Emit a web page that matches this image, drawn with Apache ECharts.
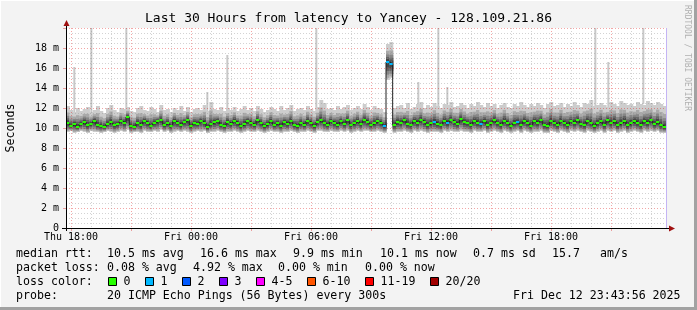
<!DOCTYPE html>
<html><head><meta charset="utf-8">
<script src="https://cdn.jsdelivr.net/npm/echarts@6/dist/echarts.min.js"></script>
<style>html,body{margin:0;padding:0;background:#f3f3f3}#c{width:697px;height:310px}</style>
</head><body><div id="c"></div>
<script>
// ---- data (10-minute intervals from Thu 17:45 to Fri 23:45) ----
const stepMin = 10;
const median = [
10.5,10.2,10.4,10.1,10.4,10.6,10.3,10.4,10.7,10.3,
10.2,10.1,10.4,10.6,10.3,10.4,10.7,10.5,11.1,10.2,
10.1,10.5,10.3,10.7,10.5,10.2,10.5,10.7,10.8,10.3,
10.5,10.2,10.7,10.5,10.3,10.6,10.8,10.2,10.5,10.4,
10.7,10.5,10.1,10.4,10.6,10.7,10.3,10.2,10.6,10.4,
10.7,10.5,10.2,10.4,10.7,10.5,10.3,10.8,10.5,10.2,
10.4,10.7,10.3,10.5,10.2,10.6,10.4,10.7,10.3,10.2,
10.5,10.3,10.7,10.5,10.2,10.6,10.8,10.5,10.3,10.7,
10.5,10.3,10.7,10.4,10.8,10.3,10.5,10.7,10.4,10.8,
10.6,10.3,10.5,10.7,10.5,10.2,16.6,16.4,10.3,10.6,
10.5,10.8,10.4,10.3,10.7,10.5,10.8,10.6,10.3,10.5,
10.6,10.4,10.3,10.7,10.5,10.8,10.6,10.4,10.9,10.6,
10.5,10.3,10.7,10.5,10.4,10.7,10.3,10.5,10.8,10.5,
10.3,10.7,10.5,10.2,10.5,10.6,10.3,10.7,10.5,10.2,
10.7,10.5,10.8,10.3,10.2,10.7,10.5,10.3,10.7,10.5,
10.3,10.7,10.5,10.8,10.4,10.3,10.7,10.5,10.2,10.5,
10.7,10.3,10.8,10.5,10.7,10.3,10.5,10.7,10.3,10.5,
10.7,10.5,10.3,10.7,10.5,10.8,10.4,10.6,10.3,10.1];
const low = [
9.6,9.7,9.5,9.6,9.7,9.6,9.5,9.7,9.6,9.6,
9.5,9.6,9.7,9.6,9.5,9.6,9.7,9.6,9.8,9.5,
9.6,9.6,9.5,9.7,9.6,9.6,9.7,9.6,9.8,9.6,
9.7,9.5,9.6,9.7,9.6,9.7,9.6,9.5,9.6,9.7,
9.6,9.7,9.5,9.6,9.6,9.7,9.6,9.5,9.6,9.6,
9.7,9.6,9.5,9.6,9.7,9.6,9.6,9.7,9.6,9.5,
9.6,9.7,9.6,9.6,9.5,9.6,9.6,9.7,9.6,9.5,
9.6,9.6,9.7,9.6,9.5,9.7,9.7,9.6,9.6,9.7,
9.6,9.6,9.7,9.6,9.7,9.5,9.6,9.7,9.6,9.7,
9.7,9.6,9.6,9.7,9.6,9.5,14.8,15.0,9.5,9.6,
9.6,9.7,9.6,9.5,9.7,9.6,9.7,9.6,9.5,9.6,
9.6,9.6,9.5,9.7,9.6,9.7,9.6,9.6,9.7,9.6,
9.6,9.5,9.7,9.6,9.6,9.7,9.5,9.6,9.7,9.6,
9.5,9.7,9.6,9.5,9.6,9.7,9.5,9.7,9.6,9.5,
9.6,9.6,9.7,9.5,9.5,9.7,9.6,9.5,9.7,9.6,
9.5,9.7,9.6,9.7,9.6,9.5,9.7,9.6,9.5,9.6,
9.7,9.5,9.7,9.6,9.7,9.5,9.6,9.7,9.5,9.6,
9.7,9.6,9.5,9.7,9.6,9.7,9.6,9.7,9.5,9.5];
const high = [
12.2,11.8,11.6,12.0,11.7,11.9,12.1,11.6,11.8,12.2,
11.7,11.5,12.0,12.3,11.8,11.6,12.0,11.9,12.1,11.7,
11.6,12.0,12.2,11.8,11.7,12.1,11.9,11.6,12.3,11.8,
11.9,11.6,12.0,11.8,12.2,11.7,12.1,11.6,11.9,12.0,
11.8,12.3,11.7,12.6,11.9,11.8,12.1,11.7,12.0,11.8,
12.1,11.7,11.9,12.2,11.8,12.0,11.7,12.2,11.9,11.6,
11.8,12.1,11.9,11.7,12.2,11.8,12.0,12.3,11.7,11.9,
12.0,11.8,12.2,11.9,11.7,12.1,12.8,12.5,11.9,12.0,
11.8,12.2,11.9,12.1,12.3,11.8,12.0,12.2,11.9,12.4,
12.1,11.8,12.2,12.0,11.9,11.6,18.4,18.6,12.0,12.2,
12.3,12.0,12.5,11.9,12.1,12.4,12.6,12.0,12.3,12.1,
12.5,12.2,12.0,12.4,12.3,12.6,12.1,12.2,12.5,12.3,
12.0,12.4,12.2,12.6,12.3,12.1,12.5,12.2,12.4,12.0,
12.3,12.5,12.1,12.0,12.4,12.2,12.6,12.3,12.1,12.4,
12.2,12.5,12.3,12.0,12.4,12.6,12.2,12.3,12.5,12.1,
12.4,12.2,12.6,12.3,12.1,12.5,12.4,12.8,12.2,12.3,
12.5,12.3,12.1,12.6,12.4,12.2,12.7,12.5,12.3,12.4,
12.2,12.6,12.4,12.3,12.7,12.5,12.3,12.6,12.4,12.2];
// single-ping outliers: minutes since start, value (ms)
const spikeTime  = [22, 73, 178, 421, 481, 748, 760, 1054, 1114, 1141, 1585, 1624, 1675, 1729];
const spikeValue = [16.1, 20, 20, 13.6, 17.3, 20, 12.8, 14.6, 20, 14.1, 20, 16.6, 12.3, 20];
// intervals with packet loss (pings lost of 20)
const lossAt    = [95, 96, 97, 110, 114, 124, 135];
const lossPings = [1, 1, 1, 1, 1, 1, 1];
// axis
const tickLabels = ['Thu 18:00','Fri 00:00','Fri 06:00','Fri 12:00','Fri 18:00'];
const legendLabels = ['0','1','2','3','4-5','6-10','11-19','20/20'];
const legendColors = ['#26ff00','#00b8ff','#0059ff','#7e00ff','#ff00ff','#ff5500','#ff0000','#a10000'];
const statLines = [
  [['median rtt:',16],['10.5 ms avg',107],['16.6 ms max',200],['9.9 ms min',293],['10.1 ms now',380],['0.7 ms sd',473],['15.7',552],['am/s',600]],
  [['packet loss:',16],['0.08 % avg',107],['4.92 % max',193],['0.00 % min',278],['0.00 % now',365]],
  [['loss color:',16]],
  [['probe:',16],['20 ICMP Echo Pings (56 Bytes) every 300s',107],['Fri Dec 12 23:43:56 2025',513]]
];

// ---- build ----
const MONO = '"DejaVu Sans Mono", monospace';
const RED = 'rgba(220,0,0,0.35)';
const GRAY = 'rgba(140,140,140,0.38)';
const days = ['Thu','Fri'];
const cats = [];
for (let k = 0; k <= 360; k++) {
  const tot = 17*60 + 45 + k*5;
  const d = Math.floor(tot/1440), mm = tot % 1440;
  cats.push(days[d] + ' ' + String(Math.floor(mm/60)).padStart(2,'0') + ':' + String(mm%60).padStart(2,'0'));
}
const isHour = v => v.endsWith(':00');
const isMajor = v => isHour(v) && (parseInt(v.slice(4,6),10) % 3 === 0);

const lossOf = i => { const j = lossAt.indexOf(i); return j < 0 ? 0 : lossPings[j]; };
function lossColor(n){ if(n===0) return legendColors[0]; if(n===1) return legendColors[1]; if(n===2) return legendColors[2]; if(n===3) return legendColors[3]; if(n<=5) return legendColors[4]; if(n<=10) return legendColors[5]; if(n<20) return legendColors[6]; return legendColors[7]; }

const smokeData = median.map((m,i) => [i*stepMin, (i+1)*stepMin, m, low[i], high[i]]);
const medianLine = median.map((m,i) => [i*stepMin, m]); medianLine.push([median.length*stepMin, median[median.length-1]]);
const lossData = median.map((m,i) => [i*stepMin, (i+1)*stepMin, m, lossOf(i)]);
const spikeData = spikeTime.map((t,i) => [t, t+6, spikeValue[i], high[Math.floor(t/stepMin)]]);

// smoke shading: [lower fraction, upper fraction, colour]
const bands = [[1,1,'#cdcdcd'],[0.88,0.62,'#a9a9a9'],[0.7,0.42,'#878787'],[0.5,0.28,'#666666'],[0.3,0.16,'#474747']];
function renderSmoke(params, api){
  const t0 = api.value(0), t1 = api.value(1), m = api.value(2), lo = api.value(3), hi = api.value(4);
  const xa = api.coord([t0, 0])[0], xb = api.coord([t1, 0])[0];
  const children = bands.map(b => {
    const yt = api.coord([t0, m + (hi-m)*b[1]])[1], yb = api.coord([t0, m - (m-lo)*b[0]])[1];
    return {type:'rect', shape:{x:xa, y:yt, width:xb-xa+0.6, height:yb-yt}, style:{fill:b[2]}};
  });
  return {type:'group', children};
}
function renderSpike(params, api){
  const a = api.coord([api.value(0), api.value(2)]), b = api.coord([api.value(1), api.value(3)]);
  return {type:'rect', shape:{x:a[0], y:a[1], width:b[0]-a[0], height:b[1]-a[1]}, style:{fill:'#c8c8c8'}};
}
function renderLoss(params, api){
  const a = api.coord([api.value(0), api.value(2)]), b = api.coord([api.value(1), api.value(2)]);
  return {type:'rect', shape:{x:a[0], y:a[1]-1, width:b[0]-a[0], height:2}, style:{fill:lossColor(api.value(3))}};
}

const graphics = [
  {type:'rect', shape:{x:0,y:0,width:697,height:1}, style:{fill:'#ffffff'}},
  {type:'rect', shape:{x:0,y:0,width:1,height:310}, style:{fill:'#ffffff'}},
  {type:'rect', shape:{x:694,y:0,width:3,height:310}, style:{fill:'#a2a2a2'}},
  {type:'rect', shape:{x:0,y:307,width:697,height:3}, style:{fill:'#a2a2a2'}},
  {type:'line', shape:{x1:66.5,y1:231,x2:66.5,y2:25}, style:{stroke:'#000',lineWidth:1}, z:20},
  {type:'polygon', shape:{points:[[63.5,26],[69.5,26],[66.5,20]]}, style:{fill:'#a01010'}, z:20},
  {type:'line', shape:{x1:62,y1:228.5,x2:670,y2:228.5}, style:{stroke:'#000',lineWidth:1}, z:20},
  {type:'polygon', shape:{points:[[669,225.5],[669,231.5],[675,228.5]]}, style:{fill:'#a01010'}, z:20},
  {type:'text', x:687, y:5, rotation:-Math.PI/2, style:{text:'RRDTOOL / TOBI OETIKER', font:'8px '+MONO, fill:'#b0b0b0', align:'left', verticalAlign:'middle'}}
];
const ys = [254, 268, 281.5, 296];
statLines.forEach((line, li) => line.forEach(([txt, x]) => {
  graphics.push({type:'text', x:x, y:ys[li], style:{text:txt, font:'11.6px '+MONO, fill:'#000', align:'left', verticalAlign:'middle'}});
}));
const boxX = [108.5,145.5,182.5,219.5,256.5,307.5,365.5,430.5];
legendLabels.forEach((lab, i) => {
  graphics.push({type:'rect', shape:{x:boxX[i], y:277.5, width:8, height:8}, style:{fill:legendColors[i], stroke:'#000', lineWidth:1}});
  graphics.push({type:'text', x:boxX[i]+15, y:281.5, style:{text:lab, font:'11.6px '+MONO, fill:'#000', align:'left', verticalAlign:'middle'}});
});

const chart = echarts.init(document.getElementById('c'));
chart.setOption({
  animation:false,
  backgroundColor:'#f3f3f3',
  title:{text:'Last 30 Hours from latency to Yancey - 128.109.21.86', left:'center', top:12, padding:0,
    textStyle:{fontFamily:MONO, fontSize:13, fontWeight:'normal', color:'#000'}},
  grid:{left:66, top:28, width:600, height:200, show:true, backgroundColor:'#ffffff', borderWidth:0, containLabel:false, outerBoundsMode:'none'},
  xAxis:[
    {type:'value', min:0, max:1800, show:false, position:'bottom'},
    {type:'category', data:cats, boundaryGap:false, position:'bottom', z:5,
      axisLine:{show:false}, axisTick:{show:false},
      axisLabel:{interval:(i,v)=>tickLabels.indexOf(v)>=0, fontFamily:MONO, fontSize:10, color:'#000', margin:4, hideOverlap:false},
      splitLine:{show:true, interval:(i,v)=>isHour(v) && !isMajor(v), lineStyle:{color:GRAY, type:[1,2], width:1}}},
    {type:'category', data:cats, boundaryGap:false, position:'bottom', z:5,
      axisLine:{show:false}, axisLabel:{show:false},
      axisTick:{show:true, interval:(i,v)=>isMajor(v), length:3, lineStyle:{color:RED}},
      splitLine:{show:true, interval:(i,v)=>isMajor(v), lineStyle:{color:RED, type:[1,2], width:1}}}
  ],
  yAxis:{type:'value', min:0, max:20, interval:2, z:5,
    name:'Seconds', nameLocation:'middle', nameGap:49, nameTextStyle:{fontFamily:MONO, fontSize:11.6, color:'#000'},
    axisLine:{show:false}, axisTick:{show:true, length:3, lineStyle:{color:RED}},
    axisLabel:{formatter:v => v===0 ? '0' : (v>=20 ? '' : v+' m'), fontFamily:MONO, fontSize:10, color:'#000', margin:7},
    splitLine:{show:true, lineStyle:{color:RED, type:[1,2], width:1}},
    minorTick:{show:false, splitNumber:4},
    minorSplitLine:{show:true, lineStyle:{color:GRAY, type:[1,2], width:1}}},
  graphic:graphics,
  series:[
    {type:'custom', name:'outliers', xAxisIndex:0, yAxisIndex:0, data:spikeData, renderItem:renderSpike, clip:true, z:2, silent:true,
      encode:{x:[0,1], y:[2,3]}},
    {type:'custom', name:'smoke', xAxisIndex:0, yAxisIndex:0, data:smokeData, renderItem:renderSmoke, clip:true, z:2, silent:true,
      encode:{x:[0,1], y:[2,3,4]}},
    {type:'line', name:'median', xAxisIndex:0, yAxisIndex:0, data:medianLine, step:'end', symbol:'none', z:6, silent:true,
      lineStyle:{color:'#202020', width:1},
      markLine:{silent:true, symbol:'none', label:{show:false}, lineStyle:{color:'#c4b4f4', type:'solid', width:1},
        data:[{xAxis:1800}]}},
    {type:'custom', name:'loss', xAxisIndex:0, yAxisIndex:0, data:lossData, renderItem:renderLoss, clip:true, z:7, silent:true,
      encode:{x:[0,1], y:[2]}}
  ]
});
</script></body></html>
